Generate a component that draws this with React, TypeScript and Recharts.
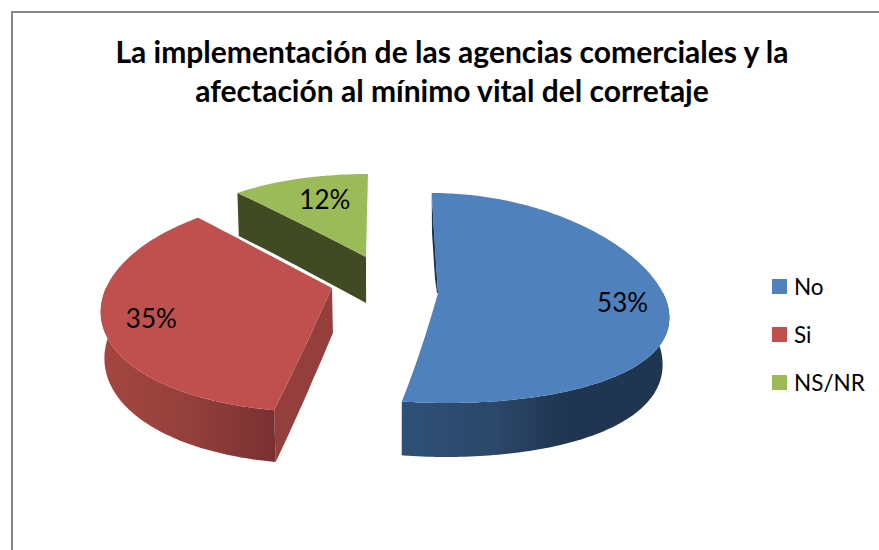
import React from "react";
import { PieChart, Pie, Cell, Legend } from "recharts";

const titleLines = [
  "La implementación de las agencias comerciales y la",
  "afectación al mínimo vital del corretaje",
];
const categories = ["No", "Si", "NS/NR"];
const shares = [52.6, 35.1, 12.3];
const colors = ["#4f81bd", "#c0504d", "#9bbb59"];

const rows = categories.map((name, i) => ({ name, value: shares[i] }));

const FONT = "Lato, 'Open Sans', sans-serif";
type G = {
  vx: number; ax: number; ay: number; ry: number; c: number; R: number; K: number; d0: number; d1: number;
  face: string; stops: [string, string][]; labelR: number; nudge: [number, number]; cut: boolean; shrink: number;
};
const view: Record<string, G> = {
  No: { vx: 400, ax: 438, ay: 293, ry: 105, c: 5, R: 225, K: 0.2, d0: 45, d1: 9, face: "#1f3550", shrink: 0.975,
    stops: [["0%", "#2f5076"], ["35%", "#2b4769"], ["62%", "#1f3550"], ["100%", "#1f3550"]], labelR: 0.81, nudge: [0, 2], cut: false },
  Si: { vx: 408, ax: 332, ay: 288, ry: 109, c: 15, R: 226, K: 0.16, d0: 45, d1: 7, face: "#953f3c", shrink: 0.988,
    stops: [["0%", "#a5463f"], ["50%", "#94403c"], ["100%", "#7a2f31"]], labelR: 0.78, nudge: [-3, 4], cut: true },
  "NS/NR": { vx: 378, ax: 366, ay: 257, ry: 106, c: 23, R: 213, K: 0.2, d0: 46, d1: 4, face: "#404a23", shrink: 0.99,
    stops: [["0%", "#404a23"], ["100%", "#404a23"]], labelR: 0.6, nudge: [1, -6], cut: true },
};

const project = (g: G, r: number, deg: number): [number, number] => {
  const t = (deg * Math.PI) / 180;
  const u = r * Math.sin(t);
  const v = -r * Math.cos(t);
  const s = 1 / (1 - g.K * v);
  return [g.vx + (g.ax - g.vx + u * g.R) * s, g.ay + g.ry * v + g.c * v * v];
};
const sink = (g: G, p: [number, number], r: number, deg: number): [number, number] => {
  const v = -r * Math.cos((deg * Math.PI) / 180);
  return [g.vx + (p[0] - g.vx) * g.shrink, p[1] + g.d0 + g.d1 * v];
};
const toPath = (pts: [number, number][]) =>
  "M" + pts.map((p) => `${p[0].toFixed(1)},${p[1].toFixed(1)}`).join("L") + "Z";

const SliceShape = (props: any) => {
  const g = view[props.name ?? props.payload?.name];
  const a0 = 90 - props.startAngle;
  const a1 = 90 - props.endAngle;
  const id = "wall" + String(props.name).replace(/\W/g, "");
  const top: [number, number][] = [];
  for (let r = 0; r < 1; r += 0.1) top.push(project(g, r, a0));
  for (let a = a0; a < a1; a += 1) top.push(project(g, 1, a));
  for (let r = 1; r >= 0; r -= 0.1) top.push(project(g, r, a1));

  const w0 = Math.max(a0, 90);
  const w1 = Math.min(a1, 270);
  const rimTop: [number, number][] = [];
  const rimBot: [number, number][] = [];
  if (w1 > w0) {
    for (let a = w0; a <= w1; a += 1) {
      const p = project(g, 1, a);
      rimTop.push(p);
      rimBot.unshift(sink(g, p, 1, a));
    }
    const pe = project(g, 1, w1);
    rimTop.push(pe);
    rimBot.unshift(sink(g, pe, 1, w1));
  }
  const facePts: [number, number][] = [];
  if (g.cut) {
    const back: [number, number][] = [];
    for (let r = 0; r <= 1.001; r += 0.1) {
      const p = project(g, r, a0);
      facePts.push(p);
      back.unshift(sink(g, p, r, a0));
    }
    facePts.push(...back);
  }
  const sliver: [number, number][] =
    props.name === "No"
      ? [project(g, 1, a0), project(g, 0, a0), [g.ax - 1, g.ay], [g.ax - 3, g.ay - 14], [g.ax - 6, g.ay - 60], project(g, 1, a0)]
      : [];
  return (
    <g>
      <defs>
        <linearGradient id={id} x1="0" y1="0" x2="1" y2="0">
          {g.stops.map(([o, c]) => (
            <stop key={o} offset={o} stopColor={c} />
          ))}
        </linearGradient>
      </defs>
      {facePts.length > 0 && <path d={toPath(facePts)} fill={g.face} />}
      {sliver.length > 0 && <path d={toPath(sliver)} fill={g.face} />}
      {rimTop.length > 0 && <path d={toPath([...rimTop, ...rimBot])} fill={`url(#${id})`} />}
      <path d={toPath(top)} fill={props.fill} />
    </g>
  );
};

const SliceLabel = (props: any) => {
  const g = view[props.name ?? props.payload?.name];
  const [x, y] = project(g, g.labelR, 90 - props.midAngle);
  return (
    <text x={x + g.nudge[0]} y={y + g.nudge[1]} fill="#000" fontFamily={FONT} fontSize={26} textAnchor="middle" dominantBaseline="central">
      {Math.round(props.percent * 100)}%
    </text>
  );
};

const LegendList = ({ payload }: any) => (
  <div>
    {(payload ?? []).map((e: any) => (
      <div key={e.value} style={{ display: "flex", alignItems: "center", height: 48, fontFamily: FONT, fontSize: 22.5, color: "#000" }}>
        <span style={{ width: 15, height: 15, background: e.color, marginRight: 7, display: "inline-block" }} />
        {e.value}
      </div>
    ))}
  </div>
);

export default function App() {
  return (
    <div style={{ position: "fixed", left: 0, top: 0, width: 879, height: 550, background: "#fff", overflow: "hidden" }}>
      <div style={{ position: "absolute", left: 11, top: 11, width: 900, height: 600, border: "2px solid #868686", boxSizing: "border-box" }} />
      <div style={{ position: "absolute", left: 0, top: 32, width: 904, textAlign: "center", fontFamily: FONT, fontWeight: 700, fontSize: 30, lineHeight: "39px", color: "#000" }}>
        {titleLines.map((t) => (
          <div key={t}>{t}</div>
        ))}
      </div>
      <div style={{ position: "absolute", left: 0, top: 0 }}>
        <PieChart width={879} height={550}>
          <Pie
            data={rows}
            dataKey="value"
            nameKey="name"
            cx={400}
            cy={300}
            outerRadius={200}
            startAngle={90}
            endAngle={-270}
            stroke="none"
            shape={SliceShape}
            label={SliceLabel}
            labelLine={false}
            isAnimationActive={false}
          >
            {categories.map((c, i) => (
              <Cell key={c} fill={colors[i]} />
            ))}
          </Pie>
          <Legend
            layout="vertical"
            content={LegendList}
            itemSorter={null}
            wrapperStyle={{ position: "absolute", left: 772, top: 262, width: 107, bottom: "auto", right: "auto" }}
          />
        </PieChart>
      </div>
    </div>
  );
}
